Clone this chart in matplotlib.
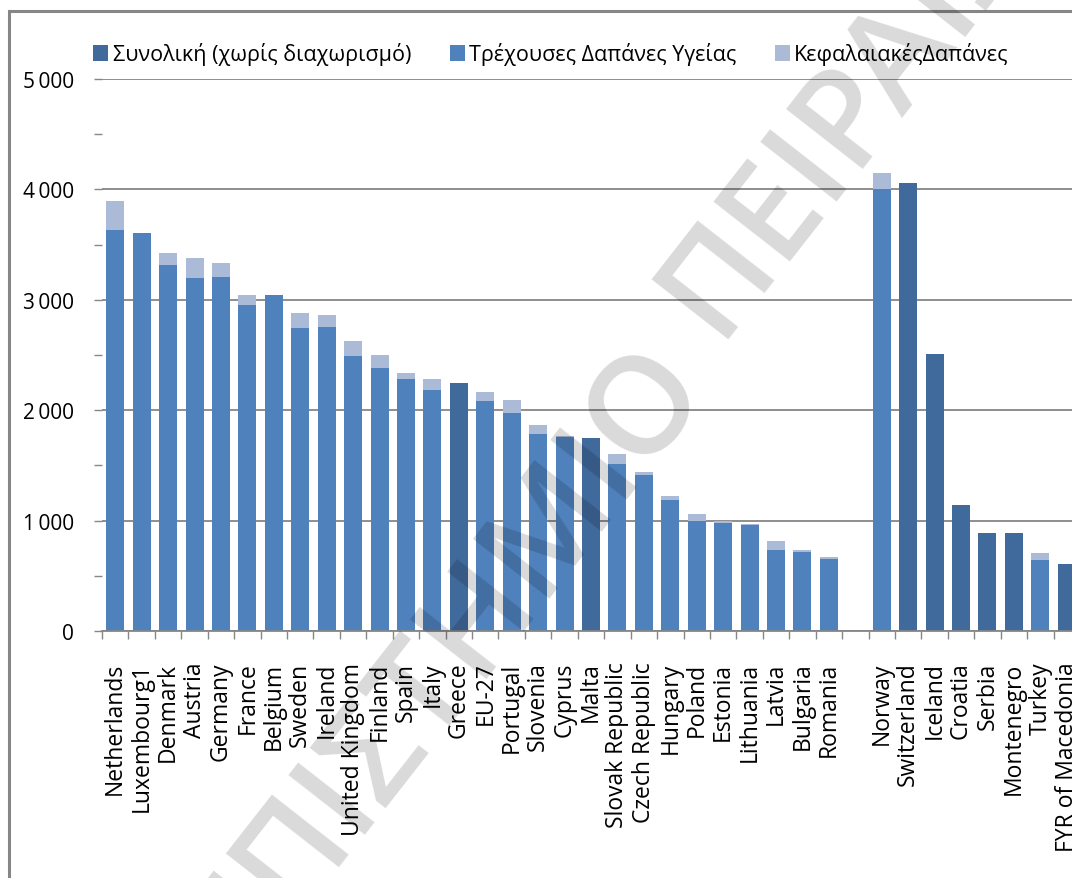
import numpy as np
import matplotlib
matplotlib.use('Agg')
import matplotlib.pyplot as plt
from matplotlib.patches import Rectangle
from matplotlib.ticker import MultipleLocator, FuncFormatter

plt.rcParams['font.family'] = ['Open Sans', 'DejaVu Sans']

# health expenditure per capita, countries in display order ('' = spacer slot)
countries = ['Netherlands', 'Luxembourg1', 'Denmark', 'Austria', 'Germany', 'France',
             'Belgium', 'Sweden', 'Ireland', 'United Kingdom', 'Finland', 'Spain', 'Italy',
             'Greece', 'EU-27', 'Portugal', 'Slovenia', 'Cyprus', 'Malta', 'Slovak Republic',
             'Czech Republic', 'Hungary', 'Poland', 'Estonia', 'Lithuania', 'Latvia',
             'Bulgaria', 'Romania', '', 'Norway', 'Switzerland', 'Iceland', 'Croatia',
             'Serbia', 'Montenegro', 'Turkey', 'FYR of Macedonia']

# total only (no breakdown available)
total_only = [0, 0, 0, 0, 0, 0, 0, 0, 0, 0, 0, 0, 0,
              2246, 0, 0, 0, 0, 1748, 0, 0, 0, 0, 0, 0, 0, 0, 0,
              0, 0, 4058, 2509, 1141, 888, 888, 0, 607]

# current health expenditure
current = [3632, 3605, 3315, 3197, 3206, 2953, 3043, 2745, 2754, 2491, 2382, 2283, 2183,
           0, 2083, 1975, 1784, 1757, 0, 1513, 1413, 1187, 996, 978, 960, 734, 716, 652,
           0, 4004, 0, 0, 0, 0, 0, 643, 0]

# capital expenditure (stacked on top of current)
capital = [263, 0, 109, 182, 127, 90, 0, 135, 108, 136, 118, 54, 100,
           0, 82, 117, 82, 9, 0, 90, 27, 36, 64, 18, 9, 81, 18, 18,
           0, 145, 0, 0, 0, 0, 0, 64, 0]

labels = ['Συνολική (χωρίς διαχωρισμό)', 'Τρέχουσες Δαπάνες Υγείας', 'ΚεφαλαιακέςΔαπάνες']
colors = ['#406A9C', '#4F81BD', '#AABAD7']
grid_color = '#868686'

fig = plt.figure(figsize=(10.72, 8.79), dpi=100)
ax = fig.add_axes([102 / 1072, 247 / 879, 978 / 1072, 552 / 879])

x = np.arange(len(countries))
w = 0.68
ax.bar(x, total_only, w, color=colors[0], label=labels[0], zorder=2)
ax.bar(x, current, w, color=colors[1], label=labels[1], zorder=2)
ax.bar(x, capital, w, bottom=current, color=colors[2], label=labels[2], zorder=2)

ax.set_xlim(-0.5, len(countries) - 0.5)
ax.set_ylim(0, 5000)

# y axis: gridlines every 1000, small marks every 500
ax.yaxis.set_major_locator(MultipleLocator(1000))
ax.yaxis.set_minor_locator(MultipleLocator(500))
ax.yaxis.set_major_formatter(FuncFormatter(lambda v, p: '0' if v == 0 else '{:,}'.format(int(v)).replace(',', '\u2009')))
ax.tick_params(axis='y', which='both', length=6, width=1, color=grid_color, pad=14, labelsize=15)
ax.grid(axis='y', which='major', color=grid_color, lw=1.3, zorder=0)

# x axis: labels at bar centres, marks between categories
ax.set_xticks(x)
ax.set_xticklabels(countries, rotation=90, fontsize=16.5)
ax.set_xticks(np.arange(-0.5, len(countries), 1), minor=True)
ax.tick_params(axis='x', which='major', length=0, pad=22)
ax.tick_params(axis='x', which='minor', length=6, width=1, color=grid_color)

for s in ['top', 'right', 'left']:
    ax.spines[s].set_visible(False)
ax.spines['bottom'].set_color(grid_color)
ax.spines['bottom'].set_linewidth(1.3)

fig.legend(loc='center', bbox_to_anchor=(551 / 1072, 1 - 55 / 879), ncol=3, frameon=False,
           fontsize=15.5, handlelength=0.7, handleheight=0.7, handletextpad=0.2,
           columnspacing=1.8)

# outer chart frame
fig.patches.append(Rectangle((9 / 1072, -0.1), 1.2, (879 - 12) / 879 + 0.1,
                             transform=fig.transFigure, fill=False,
                             edgecolor=grid_color, lw=2.2))

# diagonal watermark
wm = dict(fontsize=98, fontweight='semibold', color='black', alpha=0.15, rotation=52,
          rotation_mode='anchor', va='center', transform=None, zorder=10)
fig.text(678, 879 - 360, 'ΠΑΝΕΠΙΣΤΗΜΙΟ', ha='right', **wm)
fig.text(688, 879 - 318, 'ΠΕΙΡΑΙΩΣ', ha='left', **wm)

fig.savefig('out.png', dpi=100)
